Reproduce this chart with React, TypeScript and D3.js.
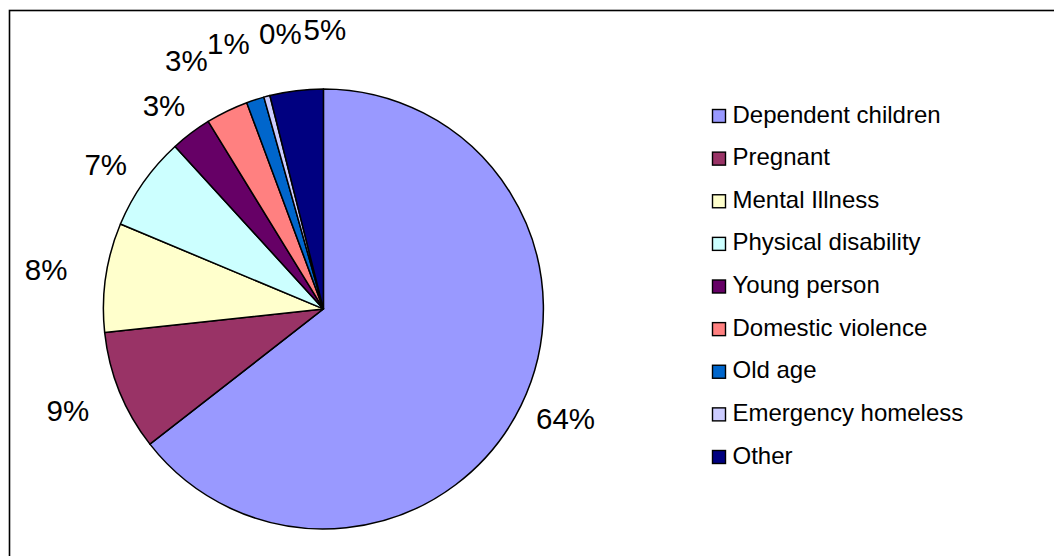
import React from "react";
import * as d3 from "d3";

const categories = [
  "Dependent children",
  "Pregnant",
  "Mental Illness",
  "Physical disability",
  "Young person",
  "Domestic violence",
  "Old age",
  "Emergency homeless",
  "Other",
];
const values = [64.3, 8.8, 8.0, 6.9, 3.0, 3.1, 1.3, 0.45, 3.9];
const percentLabels = ["64%", "9%", "8%", "7%", "3%", "3%", "1%", "0%", "5%"];
const colors = [
  "#9999FF",
  "#993366",
  "#FFFFCC",
  "#CCFFFF",
  "#660066",
  "#FF8080",
  "#0066CC",
  "#CCCCFF",
  "#000080",
];

// layout
const W = 1054;
const H = 556;
const CX = 323.4;
const CY = 308.9;
const R = 220;
const LABEL_R = 265;
const LABEL_FONT = 29.5;
const LEGEND_FONT = 24;
// small offsets mimicking the spreadsheet's label collision avoidance
const labelNudge: [number, number][] = [
  [4, -7],
  [-10, 2],
  [-15, -1],
  [-1, 8],
  [0, 8],
  [-21, -10],
  [-13, -14],
  [25, -19],
  [34, -16],
];
const FONT = "'Liberation Sans', Arial, Helvetica, sans-serif";

export default function App() {
  const data = categories.map((name, i) => ({
    name,
    value: values[i],
    label: percentLabels[i],
    color: colors[i],
  }));
  const pie = d3
    .pie<any>()
    .sort(null)
    .value((d: any) => d.value)
    .startAngle(0)
    .endAngle(2 * Math.PI);
  const arcs = pie(data);
  const arcGen = d3.arc<any>().innerRadius(0).outerRadius(R);

  const legendY = d3.scalePoint<string>().domain(categories).range([116, 457]);

  return (
    <svg
      width={W}
      height={H}
      style={{ position: "absolute", left: 0, top: 0, background: "#fff" }}
      fontFamily={FONT}
    >
      <rect x={0} y={0} width={W} height={H} fill="#fff" />
      <rect
        x={9.5}
        y={10.5}
        width={W + 20}
        height={H + 20}
        fill="none"
        stroke="#000"
        strokeWidth={1.6}
      />
      <g transform={`translate(${CX},${CY})`}>
        {arcs.map((a, i) => (
          <path
            key={i}
            d={arcGen(a) || ""}
            fill={a.data.color}
            stroke="#000"
            strokeWidth={1.5}
            strokeLinejoin="round"
          />
        ))}
        {arcs.map((a, i) => {
          const mid = (a.startAngle + a.endAngle) / 2;
          const x = Math.sin(mid) * LABEL_R + labelNudge[i][0];
          const y = -Math.cos(mid) * LABEL_R + labelNudge[i][1];
          return (
            <text
              key={"l" + i}
              x={x}
              y={y + LABEL_FONT * 0.358}
              textAnchor="middle"
              fontSize={LABEL_FONT}
              fill="#000"
            >
              {a.data.label}
            </text>
          );
        })}
      </g>
      <g>
        {data.map((d, i) => {
          const cy = legendY(d.name) as number;
          return (
            <g key={"lg" + i}>
              <rect
                x={712.5}
                y={cy - 6.5}
                width={13}
                height={13}
                fill={d.color}
                stroke="#000"
                strokeWidth={1.4}
              />
              <text x={732.5} y={cy + 6.5} fontSize={LEGEND_FONT} fill="#000">
                {d.name}
              </text>
            </g>
          );
        })}
      </g>
    </svg>
  );
}
